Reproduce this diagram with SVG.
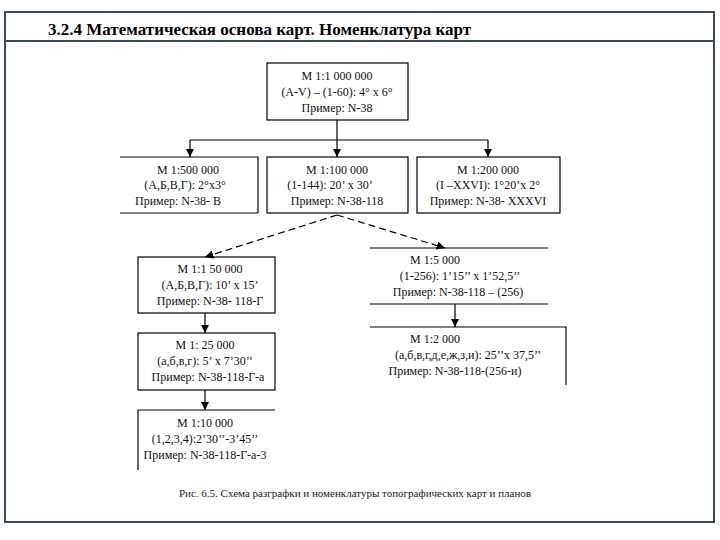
<svg xmlns="http://www.w3.org/2000/svg" width="720" height="540" viewBox="0 0 720 540">
<style>
.b{fill:none;stroke:#000;stroke-width:1.2}
.l{stroke:#000;stroke-width:1.2;fill:none}
.f{font-family:'Liberation Serif','Times New Roman','DejaVu Serif',serif}
.t{font-family:'Liberation Serif','Times New Roman','DejaVu Serif',serif;font-size:12px;fill:#111;text-anchor:middle}
</style>
<defs><marker id="a" viewBox="0 0 10 10" refX="10" refY="5" markerWidth="7" markerHeight="7" orient="auto"><path d="M0,0L10,5L0,10z" fill="#000"/></marker></defs>
<rect width="720" height="540" fill="#fff"/>
<rect x="5" y="12" width="709" height="510" fill="none" stroke="#3a4a66" stroke-width="2"/>
<line x1="5" y1="41" x2="714" y2="41" stroke="#3a4a66" stroke-width="2"/>
<text class="f" x="48" y="35" font-size="17" font-weight="bold">3.2.4  Математическая основа карт.  Номенклатура карт</text>
<g id="connectors">
<path class="l" d="M337,120V140"/>
<path class="l" d="M190,140H488"/>
<path class="l" d="M190,140V157" marker-end="url(#a)"/>
<path class="l" d="M337,140V157" marker-end="url(#a)"/>
<path class="l" d="M488,140V157" marker-end="url(#a)"/>
<path class="l" d="M337,215L205,257" stroke-dasharray="7,4" marker-end="url(#a)"/>
<path class="l" d="M337,215L445,248" stroke-dasharray="7,4" marker-end="url(#a)"/>
<path class="l" d="M205,313V333" marker-end="url(#a)"/>
<path class="l" d="M205,390V410" marker-end="url(#a)"/>
<path class="l" d="M455,304V327" marker-end="url(#a)"/>
</g>
<g id="n1"><rect class="b" x="267" y="63" width="141" height="57"/>
<text class="t" x="337" y="80">М 1:1 000 000</text><text class="t" x="337" y="96">(A-V) – (1-60):  4° x 6°</text><text class="t" x="337" y="112">Пример:  N-38</text></g>
<g id="n2"><path class="b" d="M120,157H258V213M120,213H258"/>
<text class="t" x="188" y="174">М 1:500 000</text><text class="t" x="185" y="189">(А,Б,В,Г): 2°x3°</text><text class="t" x="178" y="205">Пример:  N-38- В</text></g>
<g id="n3"><rect class="b" x="267" y="157" width="141" height="56"/>
<text class="t" x="337" y="174">М 1:100 000</text><text class="t" x="330" y="189">(1-144):  20’ x 30’</text><text class="t" x="337" y="205">Пример: N-38-118</text></g>
<g id="n4"><rect class="b" x="417" y="157" width="143" height="56"/>
<text class="t" x="488" y="174">М 1:200 000</text><text class="t" x="488" y="189">(I –XXVI): 1°20’x 2°</text><text class="t" x="488" y="205">Пример:  N-38- XXXVI</text></g>
<g id="n5"><rect class="b" x="138" y="257" width="137" height="56"/>
<text class="t" x="210" y="273">М 1:1 50 000</text><text class="t" x="210" y="289">(А,Б,В,Г):  10’ x 15’</text><text class="t" x="210" y="305">Пример: N-38- 118-Г</text></g>
<g id="n6"><rect class="b" x="138" y="333" width="137" height="57"/>
<text class="t" x="205" y="349">М 1: 25 000</text><text class="t" x="205" y="365">(а,б,в,г):  5’ x 7’30’’</text><text class="t" x="208" y="381">Пример:  N-38-118-Г-а</text></g>
<g id="n7"><path class="b" d="M138,470V410H275"/>
<text class="t" x="205" y="427">М 1:10 000</text><text class="t" x="205" y="443">(1,2,3,4):2’30’’-3’45’’</text><text class="t" x="205" y="459">Пример: N-38-118-Г-а-3</text></g>
<g id="n8"><path class="b" d="M370,248H548M370,304H548"/>
<text class="t" x="435" y="264">М 1:5 000</text><text class="t" x="460" y="280">(1-256): 1’15’’ x 1’52,5’’</text><text class="t" x="458" y="296">Пример: N-38-118 – (256)</text></g>
<g id="n9"><path class="b" d="M370,327H566V385"/>
<text class="t" x="435" y="343">М 1:2 000</text><text class="t" x="468" y="359">(а,б,в,г,д,е,ж,з,и): 25’’x 37,5’’</text><text class="t" x="455" y="375">Пример:  N-38-118-(256-и)</text></g>
<text class="f" x="355" y="497" font-size="11" text-anchor="middle" fill="#222">Рис. 6.5. Схема разграфки и номенклатуры топографических карт и планов</text>
</svg>
